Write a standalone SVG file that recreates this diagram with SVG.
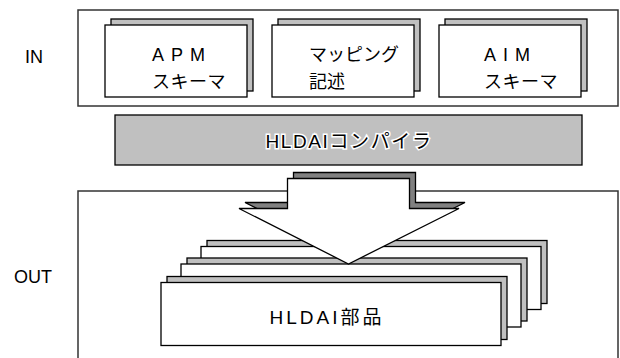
<svg xmlns="http://www.w3.org/2000/svg" width="620" height="358" viewBox="0 0 620 358">
<style>
text{font-family:"Liberation Sans","Noto Sans CJK JP",sans-serif;fill:#000}
.frame{fill:#fff;stroke:#333;stroke-width:1.5}
.card{fill:#fff;stroke:#000;stroke-width:1.3}
.shadow{fill:#c0c0c0;stroke:#000;stroke-width:1.3}
.lbl{font-size:18px;text-anchor:middle}
.ct{font-size:18px}
</style>
<rect width="620" height="358" fill="#fff"/>
<g id="label-in"><text class="lbl" x="34" y="63">IN</text></g>
<g id="label-out"><text class="lbl" x="33" y="283">OUT</text></g>
<g id="in-frame"><rect class="frame" x="78" y="10" width="540" height="96"/></g>
<g id="apm">
<rect class="shadow" x="111" y="19" width="142" height="72"/>
<rect class="card" x="105" y="25" width="142" height="72"/>
<text class="ct" x="152" y="61" letter-spacing="7">APM</text>
<text class="ct" x="152" y="88" letter-spacing="0.5">スキーマ</text>
</g>
<g id="mapping">
<rect class="shadow" x="278" y="19" width="142" height="72"/>
<rect class="card" x="272" y="25" width="142" height="72"/>
<text class="ct" x="309" y="61">マッピング</text>
<text class="ct" x="309" y="88">記述</text>
</g>
<g id="aim">
<rect class="shadow" x="445" y="19" width="142" height="72"/>
<rect class="card" x="439" y="25" width="142" height="72"/>
<text class="ct" x="484" y="61" letter-spacing="7">AIM</text>
<text class="ct" x="484" y="88" letter-spacing="0.5">スキーマ</text>
</g>
<g id="compiler">
<rect x="115" y="115" width="467" height="50" fill="#c0c0c0" stroke="#000" stroke-width="1.3"/>
<text x="349" y="148" font-size="19" text-anchor="middle" stroke="#fff" stroke-width="3" paint-order="stroke" letter-spacing="1.6">HLDAIコンパイラ</text>
</g>
<g id="out-frame"><rect class="frame" x="78" y="191" width="540" height="200"/></g>
<g id="parts">
<rect class="shadow" x="207" y="240.5" width="340" height="63"/>
<rect class="card" x="201" y="246.5" width="340" height="63"/>
<rect class="shadow" x="187" y="258" width="340" height="63"/>
<rect class="card" x="181" y="264" width="340" height="63"/>
<rect class="shadow" x="167" y="276.5" width="340" height="63"/>
<rect class="card" x="161" y="282.5" width="340" height="63"/>
<text x="327" y="324" font-size="19" text-anchor="middle" letter-spacing="3">HLDAI部品</text>
</g>
<g id="connectors">
<polygon points="293.5,172.5 415.5,172.5 415.5,202.5 465,202.5 354.5,258 245,202.5 293.5,202.5" fill="#808080" stroke="#000" stroke-width="1.3" stroke-linejoin="miter"/>
<polygon points="287.5,178.5 409.5,178.5 409.5,208.5 459,208.5 348.5,264 239,208.5 287.5,208.5" fill="#fff" stroke="#000" stroke-width="1.3" stroke-linejoin="miter"/>
</g>
</svg>
